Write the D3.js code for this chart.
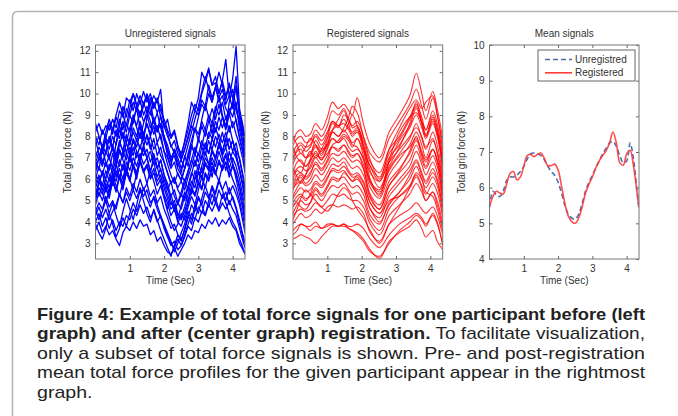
<!DOCTYPE html>
<html>
<head>
<meta charset="utf-8">
<script src="https://cdn.jsdelivr.net/npm/d3@7/dist/d3.min.js"></script>
<style>
  html, body { margin: 0; padding: 0; background: #fff; }
  svg { display: block; }
</style>
</head>
<body>
<div id="wrap"></div>
<script>
// sample times (s)
var times = [0, 0.1, 0.2, 0.3, 0.4, 0.5, 0.6, 0.7, 0.8, 0.9, 1.0, 1.1, 1.2, 1.3, 1.4, 1.5, 1.6, 1.7, 1.8, 1.9,
  2.0, 2.1, 2.2, 2.3, 2.4, 2.5, 2.6, 2.7, 2.8, 2.9, 3.0, 3.1, 3.2, 3.3, 3.4, 3.5, 3.6, 3.7, 3.8, 3.9,
  4.0, 4.1, 4.2, 4.3, 4.36];
var regTimes = [0, 0.12, 0.23, 0.37, 0.5, 0.66, 0.83, 1.0, 1.15, 1.32, 1.48, 1.62, 1.73, 1.87, 2.05,
  2.25, 2.52, 2.8, 3.1, 3.4, 3.59, 3.75, 3.87, 4.07, 4.2, 4.36];

var unregisteredSignals = [
  [8.2, 8.6, 8.1, 8.5, 8.3, 8.8, 8.4, 9.2, 8.9, 9.8, 9.6, 10.0, 9.4, 9.9, 9.5, 10.0, 9.5, 9.9, 9.6, 10.2, 8.4, 8.8, 8.0, 8.3, 7.6, 7.0, 7.8, 8.6, 9.6, 9.2, 9.8, 11.0, 10.6, 11.2, 10.4, 10.5, 10.0, 10.6, 11.6, 9.8, 10.7, 12.2, 9.3, 8.5, 7.9],
  [7.6, 8.0, 7.4, 7.9, 7.7, 8.4, 8.0, 8.8, 8.3, 9.3, 9.0, 9.6, 9.2, 9.7, 9.0, 9.4, 9.0, 9.6, 9.1, 9.5, 8.6, 8.2, 7.5, 7.8, 7.2, 6.9, 7.4, 8.0, 8.6, 9.2, 9.0, 9.7, 9.4, 10.4, 9.8, 10.3, 9.6, 9.9, 9.3, 9.0, 9.6, 10.8, 9.0, 8.2, 7.4],
  [7.0, 7.5, 7.2, 7.8, 7.4, 8.0, 7.6, 8.3, 7.9, 8.6, 8.2, 8.9, 8.5, 9.2, 8.7, 9.0, 8.4, 8.8, 8.2, 8.6, 8.0, 7.6, 7.0, 7.3, 6.6, 6.9, 6.5, 7.2, 7.8, 8.4, 8.1, 8.7, 8.3, 9.0, 8.6, 9.4, 9.0, 9.6, 8.8, 9.3, 8.9, 9.6, 8.3, 7.6, 6.8],
  [6.5, 7.0, 6.6, 7.3, 6.9, 7.6, 7.1, 7.8, 7.3, 8.1, 7.6, 8.4, 8.0, 8.7, 8.1, 8.6, 8.0, 8.5, 7.7, 8.1, 7.3, 7.0, 6.5, 6.8, 6.2, 6.0, 6.5, 7.0, 7.6, 7.2, 7.9, 7.5, 8.3, 7.9, 8.6, 8.2, 8.9, 8.4, 8.9, 8.2, 8.7, 8.1, 7.6, 6.9, 6.3],
  [6.0, 6.6, 6.2, 6.8, 6.4, 7.2, 6.7, 7.4, 7.0, 7.7, 7.2, 7.9, 7.5, 8.2, 7.6, 8.0, 7.4, 7.9, 7.1, 7.5, 6.8, 6.3, 5.8, 6.1, 5.5, 5.2, 5.8, 6.3, 6.9, 6.6, 7.2, 6.9, 7.6, 7.2, 7.9, 7.5, 8.1, 7.7, 8.2, 7.4, 7.8, 7.3, 7.0, 6.2, 5.6],
  [5.8, 6.2, 5.7, 6.4, 5.9, 6.6, 6.1, 6.9, 6.4, 7.2, 6.8, 7.5, 7.0, 7.6, 7.1, 7.4, 6.8, 7.2, 6.5, 6.9, 6.2, 5.8, 5.2, 5.5, 4.9, 4.6, 5.2, 5.7, 6.3, 6.0, 6.7, 6.3, 7.0, 6.7, 7.4, 7.0, 7.6, 7.1, 7.5, 6.8, 7.3, 7.0, 6.4, 5.6, 5.0],
  [5.3, 5.9, 5.5, 6.0, 5.6, 6.3, 5.9, 6.5, 6.0, 6.8, 6.4, 7.0, 6.6, 7.2, 6.7, 7.0, 6.4, 6.8, 6.1, 6.5, 5.8, 5.3, 4.8, 5.0, 4.4, 4.2, 4.7, 5.3, 5.9, 5.6, 6.3, 6.0, 6.7, 6.4, 7.0, 6.6, 7.3, 6.8, 7.2, 6.5, 7.0, 6.6, 6.0, 5.2, 4.6],
  [4.8, 5.4, 5.0, 5.6, 5.2, 5.9, 5.4, 6.1, 5.6, 6.3, 5.9, 6.6, 6.2, 6.8, 6.3, 6.6, 6.0, 6.3, 5.7, 6.0, 5.3, 4.9, 4.3, 4.6, 4.0, 3.8, 4.3, 4.9, 5.5, 5.2, 5.8, 5.5, 6.2, 5.9, 6.5, 6.2, 6.8, 6.4, 6.8, 6.1, 6.6, 6.2, 5.6, 4.8, 4.2],
  [4.5, 4.9, 4.6, 5.2, 4.7, 5.0, 4.6, 5.3, 4.9, 5.6, 5.2, 5.8, 5.4, 6.0, 5.5, 5.8, 5.2, 5.5, 4.9, 5.2, 4.6, 4.2, 3.7, 3.9, 3.4, 3.2, 3.6, 4.2, 4.8, 4.5, 5.1, 4.8, 5.4, 5.1, 5.7, 5.3, 5.9, 5.5, 5.9, 5.3, 5.7, 5.3, 4.8, 4.0, 3.5],
  [3.6, 4.0, 3.5, 3.8, 3.4, 3.6, 3.2, 2.9, 3.5, 3.8, 3.6, 4.0, 3.7, 4.1, 3.8, 3.9, 3.4, 3.6, 3.1, 3.3, 2.9, 2.6, 2.5, 2.8, 2.4, 2.7, 3.0, 3.4, 3.2, 3.6, 3.5, 3.9, 3.7, 4.1, 3.9, 4.2, 3.8, 4.1, 3.9, 4.2, 3.8, 3.6, 3.0, 2.7, 2.5],
  [4.0, 4.4, 3.8, 4.2, 3.7, 4.1, 3.6, 4.0, 3.8, 4.3, 4.1, 4.6, 4.3, 4.8, 4.4, 4.7, 4.2, 4.5, 4.0, 4.3, 3.7, 3.3, 2.9, 3.1, 2.7, 2.9, 3.3, 3.8, 3.6, 4.2, 4.0, 4.5, 4.3, 4.8, 4.5, 4.9, 4.5, 4.9, 4.6, 5.0, 4.6, 4.3, 3.7, 3.1, 2.8],
  [6.8, 7.2, 6.9, 6.6, 7.1, 7.4, 7.0, 7.7, 7.3, 8.0, 7.6, 8.2, 7.8, 8.5, 8.0, 8.6, 8.1, 8.9, 8.3, 8.6, 8.0, 7.4, 6.9, 7.1, 6.5, 6.2, 5.9, 6.4, 6.9, 7.5, 7.1, 7.8, 7.4, 8.2, 7.9, 8.7, 8.3, 8.9, 8.5, 9.1, 8.4, 8.8, 8.0, 7.3, 6.6],
  [5.5, 5.2, 5.8, 5.4, 6.1, 5.7, 6.4, 6.0, 6.7, 6.2, 7.0, 6.5, 7.3, 6.9, 7.4, 7.0, 7.3, 6.7, 7.0, 6.4, 6.0, 5.5, 5.9, 5.2, 4.8, 5.3, 5.0, 5.6, 5.3, 6.0, 6.4, 6.1, 6.8, 6.5, 7.3, 6.9, 7.6, 7.2, 7.9, 7.4, 7.8, 7.1, 6.5, 5.7, 5.1],
  [7.3, 6.9, 7.6, 7.2, 8.0, 7.5, 8.3, 7.9, 8.7, 8.2, 9.0, 8.6, 9.4, 8.9, 9.6, 9.1, 9.8, 9.3, 9.7, 8.9, 8.5, 8.0, 7.6, 7.2, 7.5, 6.9, 7.4, 7.9, 8.5, 8.2, 8.9, 9.5, 9.2, 10.0, 9.6, 10.3, 9.8, 10.2, 9.5, 9.9, 9.3, 10.4, 8.9, 8.1, 7.5],
  [6.2, 5.8, 6.4, 6.0, 6.7, 6.3, 7.0, 6.6, 7.3, 6.9, 7.5, 7.1, 7.9, 7.4, 8.1, 7.6, 8.0, 7.4, 7.7, 7.1, 6.8, 6.3, 5.8, 6.0, 5.6, 5.9, 5.5, 6.1, 6.6, 7.2, 6.8, 7.5, 7.1, 7.8, 7.4, 8.0, 7.6, 8.2, 7.5, 7.9, 7.3, 7.7, 6.9, 6.1, 5.4],
  [4.3, 4.7, 4.2, 4.6, 4.1, 4.5, 4.8, 5.3, 4.9, 5.4, 5.0, 5.5, 5.1, 5.6, 5.2, 5.5, 4.9, 5.1, 4.6, 4.2, 3.8, 3.4, 3.0, 2.8, 3.2, 2.9, 3.4, 3.9, 4.4, 4.1, 4.7, 4.4, 5.0, 4.7, 5.3, 4.9, 5.5, 5.1, 5.4, 4.8, 5.2, 4.7, 4.1, 3.3, 2.9],
  [8.0, 7.6, 8.3, 7.9, 8.6, 8.1, 8.9, 8.5, 9.4, 8.9, 9.7, 9.2, 10.0, 9.5, 10.1, 9.6, 10.0, 9.4, 9.8, 9.2, 8.8, 8.3, 7.9, 8.2, 7.5, 7.2, 7.7, 8.3, 9.0, 9.5, 9.2, 10.0, 10.5, 11.1, 10.4, 10.8, 10.0, 10.6, 9.9, 10.4, 9.8, 10.2, 9.1, 8.4, 7.7],
  [5.1, 5.6, 5.3, 5.8, 5.4, 6.0, 5.5, 6.2, 5.8, 6.5, 6.0, 6.7, 6.3, 6.9, 6.4, 6.7, 6.1, 6.5, 5.9, 6.2, 5.6, 5.1, 4.6, 4.8, 4.3, 4.1, 4.5, 5.0, 5.6, 5.3, 5.9, 5.6, 6.3, 6.0, 6.6, 6.3, 6.9, 6.5, 6.8, 6.2, 6.7, 6.3, 5.7, 4.9, 4.3],
  [6.9, 6.4, 7.5, 7.9, 7.0, 6.5, 7.7, 8.5, 8.0, 7.2, 7.9, 8.8, 9.3, 8.4, 7.8, 8.9, 9.6, 8.7, 8.2, 9.0, 7.9, 7.1, 6.6, 7.4, 6.8, 6.3, 7.1, 6.6, 7.5, 8.4, 7.8, 8.8, 9.5, 8.9, 8.1, 9.2, 9.9, 9.0, 8.4, 9.6, 10.2, 9.4, 8.6, 7.7, 7.0],
  [5.0, 5.8, 6.3, 5.6, 5.1, 6.0, 6.7, 6.1, 5.5, 6.4, 7.2, 6.6, 6.0, 6.9, 7.6, 7.0, 6.3, 7.1, 6.6, 5.9, 5.2, 4.6, 5.3, 4.7, 4.1, 4.8, 5.4, 4.9, 5.6, 6.4, 5.8, 6.6, 7.3, 6.7, 6.1, 7.0, 7.7, 7.1, 6.4, 7.3, 6.8, 6.0, 5.3, 4.6, 4.0],
  [3.9, 3.5, 3.2, 3.7, 4.4, 4.9, 4.3, 3.8, 4.5, 5.1, 4.6, 4.1, 4.8, 5.5, 5.0, 4.4, 4.0, 4.6, 4.1, 3.6, 3.2, 2.8, 2.4, 2.9, 3.4, 3.1, 3.7, 4.3, 3.9, 4.6, 5.2, 4.8, 4.3, 5.0, 5.6, 5.1, 4.6, 5.3, 4.9, 4.4, 4.0, 3.7, 3.2, 2.8, 2.5],
  [8.6, 8.0, 7.5, 8.2, 8.8, 8.3, 9.0, 9.6, 9.0, 8.5, 9.3, 10.0, 9.5, 8.9, 9.4, 9.9, 9.2, 8.6, 9.1, 8.4, 7.8, 7.3, 6.8, 7.4, 7.0, 6.5, 7.0, 7.6, 8.2, 8.8, 9.4, 10.1, 10.8, 10.2, 9.6, 10.3, 11.0, 10.4, 9.7, 10.5, 9.8, 9.2, 8.7, 8.0, 7.2],
  [6.3, 7.0, 7.4, 6.8, 6.2, 5.9, 6.6, 7.3, 6.9, 6.4, 7.1, 7.8, 7.3, 6.8, 7.5, 8.1, 7.6, 7.0, 6.5, 6.9, 6.2, 5.6, 5.0, 4.5, 4.9, 5.4, 6.0, 5.5, 6.2, 6.9, 6.4, 7.1, 7.7, 7.2, 7.8, 8.4, 7.9, 7.3, 7.9, 8.5, 7.8, 7.2, 6.4, 5.8, 5.2],
  [4.6, 4.1, 4.5, 5.0, 4.4, 3.9, 3.3, 3.7, 4.2, 3.8, 4.4, 4.9, 4.5, 5.0, 5.6, 5.1, 4.7, 5.2, 4.8, 4.3, 3.9, 3.5, 3.1, 2.6, 3.0, 3.5, 3.9, 4.5, 4.1, 4.8, 4.4, 5.1, 5.7, 5.2, 4.8, 5.4, 6.0, 5.5, 5.0, 5.6, 5.1, 4.6, 3.9, 3.4, 3.0],
  [7.8, 7.2, 6.7, 7.3, 7.9, 7.4, 6.9, 7.6, 8.2, 7.7, 8.4, 9.0, 8.4, 7.9, 8.6, 9.2, 8.7, 8.1, 8.5, 7.9, 7.3, 6.7, 6.2, 5.8, 6.3, 5.9, 6.5, 7.0, 7.6, 7.1, 7.8, 8.5, 8.0, 8.7, 9.3, 8.8, 9.5, 8.9, 8.3, 9.0, 9.6, 8.7, 7.9, 7.2, 6.5],
  [5.6, 6.1, 5.4, 4.9, 5.5, 6.2, 5.7, 5.2, 5.9, 6.5, 6.0, 5.5, 6.3, 6.9, 6.4, 5.8, 6.4, 5.9, 5.3, 5.7, 5.1, 4.5, 4.0, 3.6, 3.9, 4.4, 4.1, 4.7, 5.2, 4.8, 5.5, 6.1, 5.6, 6.3, 6.8, 6.3, 5.9, 6.6, 7.1, 6.5, 6.0, 5.6, 5.0, 4.3, 3.7]
];

var registeredSignals = [
  [7.8, 8.2, 8.3, 8.0, 8.1, 8.6, 8.3, 8.9, 9.6, 9.3, 9.5, 9.2, 9.0, 9.8, 8.6, 7.6, 7.0, 8.2, 9.0, 9.9, 10.95, 10.0, 9.2, 10.1, 9.3, 7.9],
  [7.6, 7.9, 8.0, 7.7, 7.8, 8.3, 8.0, 8.5, 9.2, 9.0, 9.3, 8.8, 8.5, 8.7, 8.0, 7.2, 6.8, 7.9, 8.7, 9.5, 10.2, 9.4, 8.8, 9.8, 9.0, 7.6],
  [7.0, 7.4, 7.6, 7.3, 7.5, 8.0, 7.6, 8.1, 8.7, 8.5, 8.8, 8.4, 8.2, 8.4, 7.8, 6.8, 6.3, 7.4, 8.0, 8.9, 9.5, 8.9, 8.3, 9.0, 8.4, 7.1],
  [6.7, 7.1, 7.2, 7.0, 7.2, 7.6, 7.3, 7.7, 8.2, 8.0, 8.3, 8.0, 7.7, 7.9, 7.3, 6.3, 5.9, 7.0, 7.6, 8.4, 9.0, 8.4, 7.9, 8.6, 8.0, 6.6],
  [6.3, 6.8, 6.9, 6.6, 6.8, 7.3, 6.9, 7.5, 7.9, 7.7, 7.9, 7.5, 7.3, 7.4, 7.0, 5.9, 5.4, 6.5, 7.2, 7.9, 8.6, 7.9, 7.4, 8.2, 7.6, 6.2],
  [6.2, 6.5, 6.6, 6.4, 6.5, 7.0, 6.7, 7.1, 7.5, 7.4, 7.6, 7.3, 7.1, 7.2, 6.7, 5.6, 5.1, 6.2, 6.9, 7.6, 8.2, 7.6, 7.0, 7.8, 7.3, 5.9],
  [5.8, 6.2, 6.3, 6.1, 6.3, 6.7, 6.4, 6.8, 7.2, 7.1, 7.3, 7.0, 6.8, 6.9, 6.5, 5.3, 4.8, 5.9, 6.5, 7.2, 7.8, 7.2, 6.8, 7.4, 6.9, 5.6],
  [5.5, 5.9, 6.1, 5.8, 6.0, 6.5, 6.2, 6.6, 7.0, 6.8, 7.0, 6.7, 6.5, 6.6, 6.2, 5.1, 4.6, 5.7, 6.3, 6.9, 7.6, 6.9, 6.5, 7.1, 6.6, 5.3],
  [5.6, 5.8, 5.9, 5.7, 5.8, 6.2, 5.9, 6.3, 6.7, 6.6, 6.8, 6.4, 6.2, 6.3, 5.9, 4.9, 4.4, 5.4, 6.0, 6.6, 7.3, 6.7, 6.2, 6.8, 6.3, 5.0],
  [5.1, 5.4, 5.6, 5.4, 5.5, 5.9, 5.7, 6.1, 6.4, 6.3, 6.4, 6.1, 5.9, 6.0, 5.6, 4.6, 4.2, 5.2, 5.8, 6.4, 6.9, 6.3, 5.9, 6.5, 6.0, 4.7],
  [4.9, 5.2, 5.3, 5.1, 5.2, 5.6, 5.3, 5.7, 6.1, 6.0, 6.1, 5.8, 5.6, 5.7, 5.3, 4.3, 3.9, 4.9, 5.4, 6.0, 6.6, 6.0, 5.6, 6.1, 5.7, 4.4],
  [4.4, 4.8, 5.0, 4.8, 4.9, 5.3, 5.0, 5.4, 5.7, 5.6, 5.8, 5.5, 5.3, 5.4, 5.0, 4.1, 3.6, 4.6, 5.2, 5.7, 6.2, 5.7, 5.3, 5.8, 5.4, 4.2],
  [4.3, 4.5, 4.6, 4.5, 4.6, 4.9, 4.7, 5.0, 5.3, 5.2, 5.3, 5.1, 5.0, 5.0, 4.7, 3.9, 3.4, 4.3, 4.8, 5.3, 5.8, 5.4, 5.0, 5.4, 5.0, 3.9],
  [3.9, 4.2, 4.4, 4.2, 4.3, 4.6, 4.4, 4.7, 4.8, 4.7, 4.8, 4.7, 4.6, 4.7, 4.4, 3.5, 3.1, 3.9, 4.3, 4.6, 4.9, 4.6, 4.4, 4.7, 4.3, 3.4],
  [3.6, 3.8, 3.9, 3.8, 3.8, 4.0, 3.7, 3.9, 3.9, 3.8, 3.9, 3.8, 3.8, 3.9, 3.7, 3.2, 2.8, 3.4, 3.9, 4.2, 4.4, 4.2, 3.9, 4.3, 3.9, 3.0],
  [3.2, 3.3, 3.4, 3.3, 3.2, 3.0, 3.3, 3.6, 3.8, 3.8, 3.8, 3.7, 3.6, 3.5, 3.2, 2.7, 2.3, 3.1, 3.5, 3.8, 4.1, 3.7, 3.3, 3.6, 3.1, 2.7],
  [6.9, 7.3, 7.4, 7.0, 7.1, 7.5, 7.1, 7.9, 8.6, 8.4, 9.0, 8.8, 8.4, 8.5, 7.6, 6.4, 5.6, 6.6, 7.5, 8.6, 9.6, 8.7, 8.0, 8.8, 8.2, 6.8],
  [5.7, 6.0, 6.2, 6.0, 6.2, 6.8, 6.5, 6.9, 7.5, 7.3, 7.6, 7.2, 7.0, 7.2, 6.5, 5.2, 4.6, 5.7, 6.4, 7.3, 8.0, 7.1, 6.6, 7.4, 6.9, 5.5],
  [4.7, 5.0, 5.2, 5.0, 5.3, 5.8, 5.6, 6.0, 6.5, 6.4, 6.6, 6.3, 6.1, 6.1, 5.6, 4.6, 4.0, 4.8, 5.4, 6.2, 6.8, 6.2, 5.8, 6.3, 5.9, 4.6],
  [7.2, 7.6, 7.7, 7.5, 7.6, 8.1, 7.8, 8.2, 8.7, 8.5, 8.6, 8.3, 8.0, 8.2, 7.4, 6.6, 6.1, 7.2, 7.9, 8.8, 9.4, 8.6, 8.1, 8.7, 8.1, 6.8],
  [6.0, 6.4, 6.3, 6.9, 7.3, 7.0, 7.4, 7.9, 8.3, 8.5, 8.2, 8.6, 9.0, 8.5, 7.6, 6.6, 5.9, 6.8, 7.4, 8.0, 8.4, 8.0, 7.5, 7.9, 7.2, 5.8],
  [4.1, 4.6, 5.1, 5.5, 5.3, 5.0, 4.7, 4.5, 4.8, 5.3, 5.6, 5.4, 5.0, 4.6, 4.2, 3.6, 3.0, 3.9, 4.7, 5.6, 6.3, 6.0, 5.4, 5.2, 4.6, 3.6],
  [8.0, 7.6, 7.2, 7.5, 7.9, 7.6, 7.2, 7.6, 8.2, 8.0, 8.4, 8.9, 9.4, 9.1, 8.0, 6.9, 6.0, 7.4, 8.4, 9.3, 9.7, 9.3, 9.6, 9.9, 9.0, 7.4],
  [5.2, 5.6, 5.9, 6.2, 6.6, 7.1, 7.0, 7.2, 7.6, 7.8, 8.1, 7.9, 7.6, 7.5, 6.9, 5.8, 5.3, 6.4, 7.1, 7.5, 7.9, 7.3, 6.9, 7.4, 6.8, 5.0],
  [3.4, 3.6, 3.9, 3.8, 3.6, 3.8, 3.7, 3.8, 3.9, 3.8, 3.9, 3.7, 3.6, 3.4, 3.1, 2.6, 2.4, 3.0, 3.6, 4.0, 4.3, 4.1, 3.8, 4.4, 4.0, 2.9],
  [6.5, 6.1, 5.8, 6.2, 6.9, 7.8, 7.4, 7.6, 8.3, 8.8, 9.2, 8.6, 8.1, 8.3, 7.5, 6.0, 5.2, 6.9, 8.2, 8.9, 9.1, 8.7, 8.3, 9.2, 8.6, 7.0],
  [4.8, 4.9, 4.7, 4.6, 4.9, 5.5, 5.2, 5.6, 6.0, 5.9, 6.3, 6.1, 5.9, 6.2, 5.8, 4.9, 4.4, 5.0, 5.2, 5.6, 6.1, 5.6, 5.0, 5.4, 4.8, 3.8],
  [7.5, 7.0, 6.8, 6.6, 6.9, 7.2, 6.9, 7.4, 7.9, 7.7, 8.0, 7.8, 7.5, 7.9, 7.1, 5.9, 5.5, 6.8, 7.8, 8.5, 9.3, 8.6, 8.0, 8.9, 8.3, 6.2]
];

var meanUnregistered = [5.45, 5.9, 5.8, 5.75, 5.9, 6.2, 6.3, 6.3, 6.35, 6.45, 6.6, 6.8, 6.95, 6.97, 6.95,
  6.9, 6.78, 6.6, 6.45, 6.35, 6.15, 5.85, 5.5, 5.25, 5.15, 5.12, 5.25, 5.55, 5.9, 6.15, 6.35, 6.55,
  6.75, 6.95, 7.1, 7.25, 7.3, 7.15, 6.9, 6.7, 6.75, 7.25, 6.8, 5.9, 5.4];
var meanRegistered = [5.47, 5.75, 5.9, 5.85, 5.82, 6.1, 6.4, 6.45, 6.22, 6.3, 6.6, 6.9, 6.93, 6.87, 6.93,
  6.97, 6.82, 6.62, 6.62, 6.66, 6.5, 6.05, 5.55, 5.2, 5.05, 5.0, 5.15, 5.45, 5.85, 6.1, 6.3, 6.55,
  6.75, 6.9, 7.03, 7.25, 7.56, 7.25, 6.7, 6.63, 6.95, 7.05, 6.6, 5.9, 5.45];

var panelTitles = ['Unregistered signals', 'Registered signals', 'Mean signals'];
var timeTicks = [1, 2, 3, 4];
var forceTicks = [3, 4, 5, 6, 7, 8, 9, 10, 11, 12];
var meanTicks = [4, 5, 6, 7, 8, 9, 10];
var legendLabels = ['Unregistred', 'Registered'];
var captionLines = [
  { bold: 'Figure 4: Example of total force signals for one participant before (left', rest: '' },
  { bold: 'graph) and after (center graph) registration.', rest: ' To facilitate visualization,' },
  { bold: '', rest: 'only a subset of total force signals is shown. Pre- and post-registration' },
  { bold: '', rest: 'mean total force profiles for the given participant appear in the rightmost' },
  { bold: '', rest: 'graph.' }
];

var W = 678, H = 416;
var FONT = '"Liberation Sans", Arial, sans-serif';

var svg = d3.select('#wrap').append('svg').attr('width', W).attr('height', H);

// frame
svg.append('path')
  .attr('d', 'M12.5,' + H + ' L12.5,17 Q12.5,11.5 18,11.5 L' + (W + 2) + ',11.5')
  .attr('fill', 'none')
  .attr('stroke', '#b4b4b4')
  .attr('stroke-width', 1.5);

var toPoints = function (ts, vals) {
  return vals.map(function (v, i) { return [ts[i], v]; })
    .filter(function (p) { return p[0] !== undefined; });
};

var makePanel = function (idx, left, right, yDomain, yTicks) {
  var top = 45, bottom = 259;
  var x = d3.scaleLinear().domain([0, 4.36]).range([left, right]);
  var y = d3.scaleLinear().domain(yDomain).range([bottom, top]);
  var g = svg.append('g');
  var clipId = 'clip' + idx;
  svg.append('clipPath').attr('id', clipId)
    .append('rect').attr('x', left).attr('y', top)
    .attr('width', right - left).attr('height', bottom - top);
  var plot = g.append('g').attr('clip-path', 'url(#' + clipId + ')');

  var styleAxis = function (sel) {
    sel.select('.domain').remove();
    sel.selectAll('.tick line').attr('stroke', '#666');
    sel.selectAll('.tick text').attr('fill', '#333')
      .style('font-family', FONT).style('font-size', '10px');
  };
  var fmt = d3.format('d');
  g.append('g').attr('transform', 'translate(0,' + bottom + ')')
    .call(d3.axisBottom(x).tickValues(timeTicks).tickFormat(fmt).tickSizeInner(-3).tickSizeOuter(0).tickPadding(6))
    .call(styleAxis);
  g.append('g').attr('transform', 'translate(0,' + top + ')')
    .call(d3.axisTop(x).tickValues(timeTicks).tickSizeInner(-3).tickSizeOuter(0).tickFormat(''))
    .call(styleAxis);
  g.append('g').attr('transform', 'translate(' + left + ',0)')
    .call(d3.axisLeft(y).tickValues(yTicks).tickFormat(fmt).tickSizeInner(-3).tickSizeOuter(0).tickPadding(5))
    .call(styleAxis);
  g.append('g').attr('transform', 'translate(' + right + ',0)')
    .call(d3.axisRight(y).tickValues(yTicks).tickSizeInner(-3).tickSizeOuter(0).tickFormat(''))
    .call(styleAxis);

  g.append('rect')
    .attr('x', left).attr('y', top)
    .attr('width', right - left).attr('height', bottom - top)
    .attr('fill', 'none').attr('stroke', '#777').attr('stroke-width', 1);

  g.append('text')
    .attr('x', (left + right) / 2).attr('y', 37)
    .attr('text-anchor', 'middle')
    .style('font-family', FONT).style('font-size', '10px').attr('fill', '#333')
    .text(panelTitles[idx]);
  g.append('text')
    .attr('x', (left + right) / 2).attr('y', 284)
    .attr('text-anchor', 'middle')
    .style('font-family', FONT).style('font-size', '10px').attr('fill', '#333')
    .text('Time (Sec)');
  g.append('text')
    .attr('transform', 'translate(' + (left - 24.5) + ',' + ((top + bottom) / 2) + ') rotate(-90)')
    .attr('text-anchor', 'middle')
    .style('font-family', FONT).style('font-size', '10px').attr('fill', '#333')
    .text('Total grip force (N)');

  return { x: x, y: y, plot: plot, g: g };
};

// left: unregistered signals
var p1 = makePanel(0, 95.5, 245, [2.27, 12.27], forceTicks);
var line1 = d3.line().x(function (d) { return p1.x(d[0]); }).y(function (d) { return p1.y(d[1]); });
p1.plot.selectAll('.sig').data(unregisteredSignals).enter().append('path')
  .attr('class', 'sig')
  .attr('d', function (d) { return line1(toPoints(times, d)); })
  .attr('fill', 'none').attr('stroke', '#0000ff').attr('stroke-width', 1.3)
  .attr('stroke-linejoin', 'round');

// center: registered signals
var p2 = makePanel(1, 293, 442.7, [2.27, 12.27], forceTicks);
var line2 = d3.line().curve(d3.curveCatmullRom)
  .x(function (d) { return p2.x(d[0]); }).y(function (d) { return p2.y(d[1]); });
p2.plot.selectAll('.sig').data(registeredSignals).enter().append('path')
  .attr('class', 'sig')
  .attr('d', function (d) { return line2(toPoints(regTimes, d)); })
  .attr('fill', 'none').attr('stroke', '#ff0000').attr('stroke-width', 1.1)
  .attr('stroke-opacity', 0.8);

// right: mean signals
var p3 = makePanel(2, 489.5, 639, [4, 10], meanTicks);
var line3 = d3.line().curve(d3.curveCatmullRom)
  .x(function (d) { return p3.x(d[0]); }).y(function (d) { return p3.y(d[1]); });
p3.plot.append('path')
  .attr('d', line3(toPoints(times, meanUnregistered)))
  .attr('fill', 'none').attr('stroke', '#4f6cab').attr('stroke-width', 1.6)
  .attr('stroke-dasharray', '5,3');
p3.plot.append('path')
  .attr('d', line3(toPoints(times, meanRegistered)))
  .attr('fill', 'none').attr('stroke', '#ff3b3b').attr('stroke-width', 1.6)
  .attr('stroke-opacity', 0.9);

// legend
var lg = p3.g.append('g');
lg.append('rect').attr('x', 538).attr('y', 50).attr('width', 97).attr('height', 31)
  .attr('fill', '#fff').attr('stroke', '#666').attr('stroke-width', 1);
var legendStyles = [
  { stroke: '#4f6cab', dash: '5,3' },
  { stroke: '#ff3b3b', dash: null }
];
legendLabels.forEach(function (lab, i) {
  var ly = 59.5 + i * 13.3;
  lg.append('line').attr('x1', 545).attr('x2', 572).attr('y1', ly).attr('y2', ly)
    .attr('stroke', legendStyles[i].stroke).attr('stroke-width', 1.6)
    .attr('stroke-dasharray', legendStyles[i].dash);
  lg.append('text').attr('x', 575).attr('y', ly + 3.6)
    .style('font-family', FONT).style('font-size', '10px').attr('fill', '#333')
    .text(lab);
});

// caption: justified lines, squeezed to the column width
var capLeft = 37, capWidth = 608;
var capG = svg.append('g')
  .style('font-family', FONT).style('font-size', '17px').attr('fill', '#222');
var capTexts = captionLines.map(function (ln, i) {
  var t = capG.append('text').attr('x', capLeft).attr('y', 319.5 + i * 19.5);
  if (ln.bold) t.append('tspan').style('font-weight', 'bold').text(ln.bold);
  if (ln.rest) t.append('tspan').text(ln.rest);
  return t;
});
var ratio = capWidth / capTexts[2].node().getComputedTextLength();
capTexts.forEach(function (t, i) {
  var w = i < capTexts.length - 1 ? capWidth : t.node().getComputedTextLength() * ratio;
  t.attr('textLength', w).attr('lengthAdjust', 'spacingAndGlyphs');
});
</script>
</body>
</html>
